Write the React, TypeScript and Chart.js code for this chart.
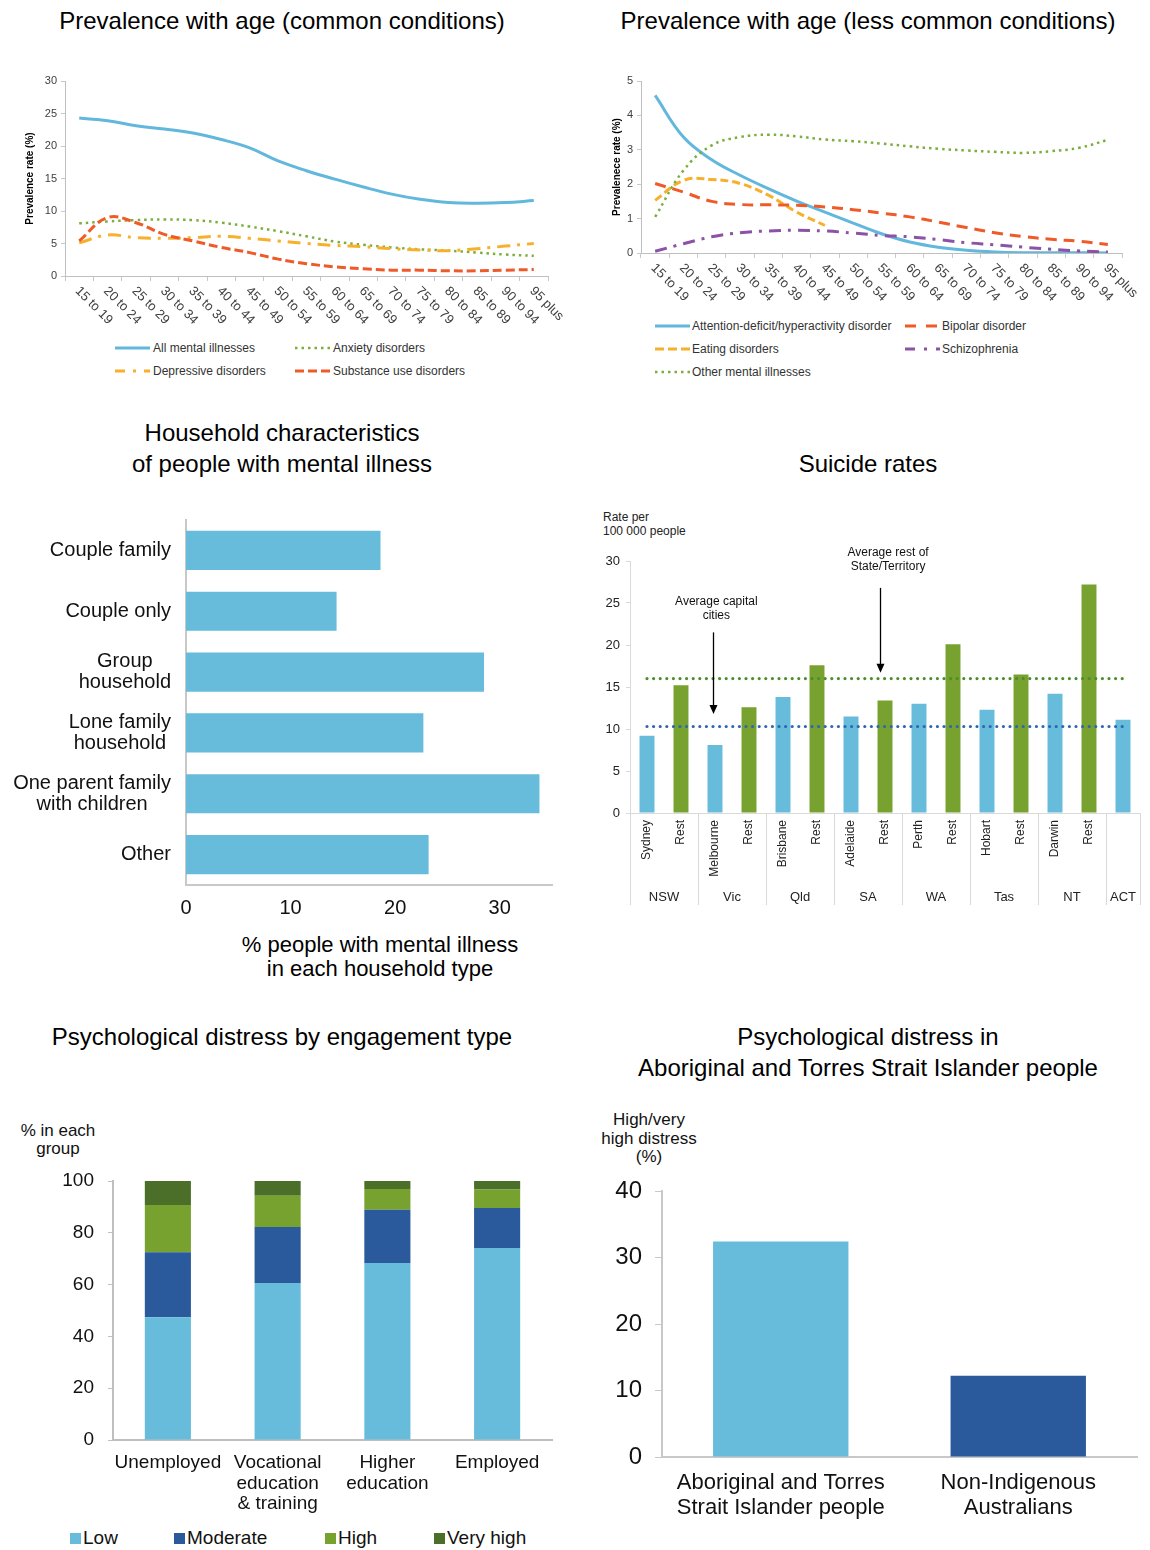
import React, { useEffect, useRef } from 'react';
import { Chart, registerables } from 'chart.js';

Chart.register(...registerables);

const FONT = '"Liberation Sans", Arial, Helvetica, sans-serif';
Chart.defaults.font.family = FONT;
Chart.defaults.color = '#333';

// ---------- Prevalence with age ----------
const ageGroups = ['15 to 19', '20 to 24', '25 to 29', '30 to 34', '35 to 39', '40 to 44', '45 to 49', '50 to 54', '55 to 59', '60 to 64', '65 to 69', '70 to 74', '75 to 79', '80 to 84', '85 to 89', '90 to 94', '95 plus'];
const allMentalIllnesses = [24.3, 23.9, 23.1, 22.6, 22.0, 21.0, 19.7, 17.7, 16.2, 14.9, 13.7, 12.6, 11.8, 11.3, 11.2, 11.3, 11.6];
const anxietyDisorders = [8.1, 8.4, 8.6, 8.7, 8.6, 8.2, 7.6, 6.9, 6.1, 5.3, 4.8, 4.4, 4.1, 3.9, 3.6, 3.3, 3.1];
const depressiveDisorders = [5.1, 6.3, 5.9, 5.8, 5.9, 6.1, 5.8, 5.4, 5.0, 4.7, 4.5, 4.2, 4.0, 3.9, 4.2, 4.6, 5.0];
const substanceUseDisorders = [5.4, 9.0, 8.2, 6.4, 5.4, 4.4, 3.6, 2.6, 1.9, 1.4, 1.1, 0.9, 0.9, 0.8, 0.8, 0.9, 1.0];

const adhd = [4.58, 3.37, 2.71, 2.26, 1.87, 1.51, 1.19, 0.87, 0.56, 0.32, 0.17, 0.08, 0.03, 0.01, 0.01, 0.01, 0.0];
const bipolarDisorder = [2.02, 1.77, 1.5, 1.41, 1.4, 1.39, 1.34, 1.26, 1.16, 1.05, 0.9, 0.74, 0.59, 0.48, 0.4, 0.34, 0.25];
const eatingDisorders = [1.53, 2.11, 2.14, 2.02, 1.68, 1.19, 0.8, null, null, null, null, null, null, null, null, null, null];
const schizophrenia = [0.05, 0.27, 0.47, 0.59, 0.64, 0.66, 0.64, 0.58, 0.51, 0.47, 0.39, 0.3, 0.24, 0.17, 0.11, 0.06, 0.03];
const otherMentalIllnesses = [1.05, 2.4, 3.13, 3.37, 3.44, 3.39, 3.3, 3.25, 3.18, 3.1, 3.03, 2.98, 2.94, 2.91, 2.96, 3.06, 3.29];

// ---------- Household characteristics ----------
const householdTypes = ['Couple family', 'Couple only', 'Group\nhousehold', 'Lone family\nhousehold', 'One parent family\nwith children', 'Other'];
const householdShares = [18.6, 14.4, 28.5, 22.7, 33.8, 23.2];

// ---------- Suicide rates ----------
const suicideAreas = ['Sydney', 'Rest', 'Melbourne', 'Rest', 'Brisbane', 'Rest', 'Adelaide', 'Rest', 'Perth', 'Rest', 'Hobart', 'Rest', 'Darwin', 'Rest', ''];
const suicideAreaType = ['capital', 'rest', 'capital', 'rest', 'capital', 'rest', 'capital', 'rest', 'capital', 'rest', 'capital', 'rest', 'capital', 'rest', 'capital'];
const suicideRates = [9.2, 15.2, 8.1, 12.6, 13.8, 17.6, 11.5, 13.4, 13.0, 20.1, 12.3, 16.5, 14.2, 27.2, 11.1];
const stateNames = ['NSW', 'Vic', 'Qld', 'SA', 'WA', 'Tas', 'NT', 'ACT'];
const stateSpans = [2, 2, 2, 2, 2, 2, 2, 1];
const avgCapitalCities = 10.3;
const avgRestOfState = 16.0;
const suicideNotes = [
  { lines: ['Average capital', 'cities'], textAt: [2.04, 25.2], arrowX: 1.93, arrowFrom: 21.5, arrowTo: 11.8 },
  { lines: ['Average rest of', 'State/Territory'], textAt: [7.09, 31.0], arrowX: 6.85, arrowFrom: 26.8, arrowTo: 16.7 },
];

// ---------- Psychological distress by engagement ----------
const engagementTypes = [['Unemployed'], ['Vocational', 'education', '& training'], ['Higher', 'education'], ['Employed']];
const distressLow = [47.4, 60.6, 68.3, 74.1];
const distressModerate = [25.1, 21.6, 20.6, 15.5];
const distressHigh = [18.2, 12.1, 8.0, 7.1];
const distressVeryHigh = [9.3, 5.7, 3.1, 3.3];

// ---------- Aboriginal and Torres Strait Islander ----------
const populationGroups = [['Aboriginal and Torres', 'Strait Islander people'], ['Non-Indigenous', 'Australians']];
const highDistressShare = [32.4, 12.2];

// ---------- colours ----------
const LIGHT_BLUE = '#67BCDB';
const DARK_BLUE = '#2A5A9B';
const GREEN = '#78A22F';
const DARK_GREEN = '#4B6F29';
const LINE_BLUE = '#62B7DD';
const LINE_GREEN = '#7BAE3C';
const LINE_ORANGE = '#F7B02B';
const LINE_RED = '#EF5A29';
const LINE_PURPLE = '#8C52A6';

const noLegend = { legend: { display: false }, tooltip: { enabled: false } };

function ChartCanvas({ left, top, width, height, build }: any) {
  const ref = useRef<HTMLCanvasElement | null>(null);
  useEffect(() => {
    if (!ref.current) return;
    const chart = new Chart(ref.current, build());
    return () => chart.destroy();
  }, []);
  return <canvas ref={ref} width={width} height={height} style={{ position: 'absolute', left, top, width, height }} />;
}

function prevalenceDecor(yTitle: string, titleX: number) {
  return {
    id: 'prevalenceDecor',
    afterDraw(chart: any) {
      const { ctx } = chart;
      const x = chart.scales.x;
      const y = chart.scales.y;
      ctx.save();
      ctx.fillStyle = '#404040';
      ctx.font = `13px ${FONT}`;
      ctx.textAlign = 'left';
      ctx.textBaseline = 'middle';
      (chart.data.labels as string[]).forEach((lab, i) => {
        const px = x.getPixelForValue(i);
        ctx.save();
        ctx.translate(px - 2, x.top + 13);
        ctx.rotate(Math.PI / 4);
        ctx.fillText(lab, 0, 0);
        ctx.restore();
      });
      ctx.fillStyle = '#000';
      ctx.font = `bold 10px ${FONT}`;
      ctx.textAlign = 'center';
      ctx.translate(titleX, (y.top + y.bottom) / 2);
      ctx.rotate(-Math.PI / 2);
      ctx.fillText(yTitle, 0, 0);
      ctx.restore();
    },
  };
}

function prevalenceConfig(datasets: any[], yMax: number, yStep: number, yTitle: string, titleX: number, padRight: number, xHeight: number, yWidth: number) {
  return {
    type: 'line',
    data: { labels: ageGroups, datasets },
    options: {
      responsive: false,
      animation: false,
      devicePixelRatio: 1,
      layout: { padding: { top: 21, right: padRight, bottom: 0, left: 0 } },
      plugins: noLegend,
      elements: { point: { radius: 0, hoverRadius: 0 }, line: { tension: 0.4 } },
      scales: {
        x: {
          type: 'category',
          offset: true,
          grid: { display: true, drawOnChartArea: false, drawTicks: true, tickLength: 5, offset: true, color: '#C8C8C8' },
          border: { display: true, color: '#BFBFBF', width: 1 },
          ticks: { display: false },
          afterFit: (s: any) => { s.height = xHeight; },
        },
        y: {
          min: 0,
          max: yMax,
          grid: { display: true, drawOnChartArea: false, drawTicks: true, tickLength: 4, color: '#C8C8C8' },
          border: { display: true, color: '#BFBFBF', width: 1 },
          ticks: { stepSize: yStep, padding: 4, color: '#404040', font: { size: 11 } },
          afterFit: (s: any) => { s.width = yWidth; },
        },
      },
    },
    plugins: [prevalenceDecor(yTitle, titleX)],
  };
}

function buildCommon() {
  return prevalenceConfig(
    [
      { label: 'Substance use disorders', data: [...substanceUseDisorders], borderColor: LINE_RED, borderWidth: 3, borderDash: [9, 4] },
      { label: 'Depressive disorders', data: [...depressiveDisorders], borderColor: LINE_ORANGE, borderWidth: 3, borderDash: [13, 7, 3, 7] },
      { label: 'Anxiety disorders', data: [...anxietyDisorders], borderColor: LINE_GREEN, borderWidth: 2.5, borderDash: [2.5, 4] },
      { label: 'All mental illnesses', data: [...allMentalIllnesses], borderColor: LINE_BLUE, borderWidth: 3 },
    ],
    30, 5, 'Prevalence rate (%)', 30, 22, 59, 65,
  );
}

function buildLessCommon() {
  return prevalenceConfig(
    [
      { label: 'Other mental illnesses', data: [...otherMentalIllnesses], borderColor: LINE_GREEN, borderWidth: 2.5, borderDash: [2.5, 4] },
      { label: 'Schizophrenia', data: [...schizophrenia], borderColor: LINE_PURPLE, borderWidth: 3, borderDash: [12, 7, 3, 7] },
      { label: 'Bipolar disorder', data: [...bipolarDisorder], borderColor: LINE_RED, borderWidth: 3, borderDash: [11, 7] },
      { label: 'Eating disorders', data: [...eatingDisorders], borderColor: LINE_ORANGE, borderWidth: 3, borderDash: [8, 4] },
      { label: 'Attention-deficit/hyperactivity disorder', data: [...adhd], borderColor: LINE_BLUE, borderWidth: 3 },
    ],
    5, 1, 'Prevalenece rate (%)', 37, 28, 57, 61,
  );
}

function householdLabelPlugin() {
  return {
    id: 'householdLabels',
    afterDraw(chart: any) {
      const { ctx } = chart;
      const y = chart.scales.y;
      ctx.save();
      ctx.font = `20px ${FONT}`;
      ctx.fillStyle = '#111';
      ctx.textAlign = 'center';
      ctx.textBaseline = 'middle';
      householdTypes.forEach((lab, i) => {
        const lines = lab.split('\n');
        const w = Math.max(...lines.map((l) => ctx.measureText(l).width));
        const cx = y.right - 15 - w / 2;
        const cy = y.getPixelForValue(i);
        lines.forEach((ln, k) => ctx.fillText(ln, cx, cy + (k - (lines.length - 1) / 2) * 21.5));
      });
      ctx.restore();
    },
  };
}

function buildHousehold() {
  return {
    type: 'bar',
    data: {
      labels: householdTypes,
      datasets: [{ data: [...householdShares], backgroundColor: LIGHT_BLUE, barPercentage: 0.645, categoryPercentage: 1 }],
    },
    options: {
      indexAxis: 'y',
      responsive: false,
      animation: false,
      devicePixelRatio: 1,
      layout: { padding: { top: 15, right: 28, left: 0, bottom: 0 } },
      plugins: noLegend,
      scales: {
        y: {
          type: 'category',
          grid: { display: false, drawTicks: false },
          border: { display: true, color: '#C8C8C8', width: 2 },
          ticks: { display: false },
          afterFit: (s: any) => { s.width = 186; },
        },
        x: {
          min: 0,
          max: 35,
          grid: { display: false, drawTicks: false },
          border: { display: true, color: '#C8C8C8', width: 2 },
          ticks: { stepSize: 10, padding: 11, font: { size: 20 }, color: '#111' },
          afterBuildTicks: (s: any) => { s.ticks = s.ticks.filter((t: any) => t.value % 10 === 0); },
          afterFit: (s: any) => { s.height = 40; },
        },
      },
    },
    plugins: [householdLabelPlugin()],
  };
}

function suicideDecorPlugin() {
  return {
    id: 'suicideDecor',
    afterDraw(chart: any) {
      const { ctx } = chart;
      const x = chart.scales.x;
      const y = chart.scales.y;
      ctx.save();
      const bounds = [0];
      let acc = 0;
      stateSpans.forEach((s) => { acc += s; bounds.push(acc); });
      ctx.strokeStyle = '#D9D9D9';
      ctx.lineWidth = 1;
      bounds.forEach((b) => {
        const px = Math.round(x.getPixelForValue(b - 0.5)) + 0.5;
        ctx.beginPath();
        ctx.moveTo(px, x.top);
        ctx.lineTo(px, x.top + 92);
        ctx.stroke();
      });
      ctx.font = `13px ${FONT}`;
      ctx.fillStyle = '#222';
      ctx.textAlign = 'center';
      ctx.textBaseline = 'middle';
      stateNames.forEach((name, i) => {
        const cx = (x.getPixelForValue(bounds[i] - 0.5) + x.getPixelForValue(bounds[i + 1] - 0.5)) / 2;
        ctx.fillText(name, cx, x.top + 84);
      });
      // annotations
      ctx.font = `12px ${FONT}`;
      ctx.fillStyle = '#111';
      suicideNotes.forEach((n) => {
        const tx = x.getPixelForValue(n.textAt[0]);
        const ty = y.getPixelForValue(n.textAt[1]);
        n.lines.forEach((ln, k) => ctx.fillText(ln, tx, ty + k * 14));
        const ax = Math.round(x.getPixelForValue(n.arrowX)) + 0.5;
        const y1 = y.getPixelForValue(n.arrowFrom);
        const y2 = y.getPixelForValue(n.arrowTo);
        ctx.strokeStyle = '#000';
        ctx.lineWidth = 1.3;
        ctx.beginPath();
        ctx.moveTo(ax, y1);
        ctx.lineTo(ax, y2 - 6);
        ctx.stroke();
        ctx.fillStyle = '#000';
        ctx.beginPath();
        ctx.moveTo(ax - 4, y2 - 9);
        ctx.lineTo(ax + 4, y2 - 9);
        ctx.lineTo(ax, y2);
        ctx.closePath();
        ctx.fill();
        ctx.fillStyle = '#111';
      });
      ctx.restore();
    },
  };
}

function buildSuicide() {
  return {
    type: 'bar',
    data: {
      labels: suicideAreas,
      datasets: [
        { type: 'line', data: suicideAreas.map(() => avgRestOfState), borderColor: '#4E8C2E', borderWidth: 3.2, borderDash: [0, 6.6], borderCapStyle: 'round', pointRadius: 0, order: 0 },
        { type: 'line', data: suicideAreas.map(() => avgCapitalCities), borderColor: '#2E66B1', borderWidth: 3.2, borderDash: [0, 6.6], borderCapStyle: 'round', pointRadius: 0, order: 0 },
        {
          type: 'bar',
          data: [...suicideRates],
          backgroundColor: suicideAreaType.map((t) => (t === 'capital' ? LIGHT_BLUE : GREEN)),
          barPercentage: 0.44,
          categoryPercentage: 1,
          order: 1,
        },
      ],
    },
    options: {
      responsive: false,
      animation: false,
      devicePixelRatio: 1,
      layout: { padding: { top: 21, right: 10, left: 0, bottom: 0 } },
      plugins: noLegend,
      scales: {
        x: {
          grid: { display: false, drawTicks: false },
          border: { display: true, color: '#D9D9D9', width: 1 },
          ticks: { autoSkip: false, minRotation: 90, maxRotation: 90, padding: 7, font: { size: 12 }, color: '#222' },
          afterFit: (s: any) => { s.height = 97; },
        },
        y: {
          min: 0,
          max: 30,
          grid: { display: true, drawOnChartArea: false, drawTicks: true, tickLength: 4, color: '#D9D9D9' },
          border: { display: true, color: '#D9D9D9', width: 1 },
          ticks: { stepSize: 5, padding: 6, font: { size: 13 }, color: '#222' },
          afterFit: (s: any) => { s.width = 40; },
        },
      },
    },
    plugins: [suicideDecorPlugin()],
  };
}

function buildEngagement() {
  return {
    type: 'bar',
    data: {
      labels: engagementTypes,
      datasets: [
        { label: 'Low', data: [...distressLow], backgroundColor: LIGHT_BLUE },
        { label: 'Moderate', data: [...distressModerate], backgroundColor: DARK_BLUE },
        { label: 'High', data: [...distressHigh], backgroundColor: GREEN },
        { label: 'Very high', data: [...distressVeryHigh], backgroundColor: DARK_GREEN },
      ].map((d) => ({ ...d, barPercentage: 0.42, categoryPercentage: 1 })),
    },
    options: {
      responsive: false,
      animation: false,
      devicePixelRatio: 1,
      layout: { padding: { top: 26, right: 28, left: 0, bottom: 0 } },
      plugins: noLegend,
      scales: {
        x: {
          stacked: true,
          grid: { display: false, drawTicks: false },
          border: { display: true, color: '#BFBFBF', width: 2 },
          ticks: { autoSkip: false, maxRotation: 0, minRotation: 0, padding: 12, font: { size: 19, lineHeight: 1.1 }, color: '#111' },
          afterFit: (s: any) => { s.height = 80; },
        },
        y: {
          stacked: true,
          min: 0,
          max: 100,
          grid: { display: true, drawOnChartArea: false, drawTicks: true, tickLength: 5, color: '#BFBFBF' },
          border: { display: true, color: '#BFBFBF', width: 2 },
          ticks: { stepSize: 20, padding: 14, font: { size: 19 }, color: '#111' },
          afterFit: (s: any) => { s.width = 113; },
        },
      },
    },
  };
}

function buildIndigenous() {
  return {
    type: 'bar',
    data: {
      labels: populationGroups,
      datasets: [{ data: [...highDistressShare], backgroundColor: [LIGHT_BLUE, DARK_BLUE], barPercentage: 0.57, categoryPercentage: 1 }],
    },
    options: {
      responsive: false,
      animation: false,
      devicePixelRatio: 1,
      layout: { padding: { top: 28, right: 13, left: 0, bottom: 0 } },
      plugins: noLegend,
      scales: {
        x: {
          grid: { display: false, drawTicks: false },
          border: { display: true, color: '#C8C8C8', width: 2 },
          ticks: { autoSkip: false, maxRotation: 0, minRotation: 0, padding: 13, font: { size: 22, lineHeight: 25 / 22 }, color: '#111' },
          afterFit: (s: any) => { s.height = 68; },
        },
        y: {
          min: 0,
          max: 40,
          grid: { display: true, drawOnChartArea: false, drawTicks: true, tickLength: 7, color: '#C8C8C8' },
          border: { display: true, color: '#C8C8C8', width: 2 },
          ticks: { stepSize: 10, padding: 13, font: { size: 24 }, color: '#111' },
          afterFit: (s: any) => { s.width = 72; },
        },
      },
    },
  };
}

function Title({ left, top, lines }: any) {
  return (
    <div style={{ position: 'absolute', left, top, width: 564, textAlign: 'center', fontSize: 24, lineHeight: '31px', whiteSpace: 'nowrap' }}>
      {lines.map((l: string, i: number) => <div key={i}>{l}</div>)}
    </div>
  );
}

function LegendLine({ sx, y, color, dash, cap, width, label, gap }: any) {
  return (
    <>
      <svg style={{ position: 'absolute', left: sx, top: y - 4 }} width={35} height={8}>
        <line x1={cap === 'round' ? 2 : 0} y1={4} x2={35} y2={4} stroke={color} strokeWidth={width || 3} strokeDasharray={dash || undefined} strokeLinecap={cap || 'butt'} />
      </svg>
      <div style={{ position: 'absolute', left: sx + (gap || 38), top: y - 7, fontSize: 12, lineHeight: '14px', color: '#333', whiteSpace: 'nowrap' }}>{label}</div>
    </>
  );
}

function LegendBox({ sx, y, color, label }: any) {
  return (
    <>
      <div style={{ position: 'absolute', left: sx, top: y - 5.5, width: 11, height: 11, background: color }} />
      <div style={{ position: 'absolute', left: sx + 13, top: y - 11, fontSize: 19, lineHeight: '22px', color: '#111', whiteSpace: 'nowrap' }}>{label}</div>
    </>
  );
}

export default function App() {
  return (
    <div style={{ position: 'absolute', left: 0, top: 0, width: 1150, height: 1550, background: '#fff', fontFamily: FONT, color: '#000', overflow: 'hidden' }}>
      {/* Chart 1 */}
      <Title left={0} top={5} lines={['Prevalence with age (common conditions)']} />
      <ChartCanvas left={0} top={60} width={570} height={275} build={buildCommon} />
      <LegendLine sx={115} y={348} color={LINE_BLUE} label="All mental illnesses" />
      <LegendLine sx={295} y={348} color={LINE_GREEN} dash="2.5 4" width={2.5} label="Anxiety disorders" />
      <LegendLine sx={115} y={371} color={LINE_ORANGE} dash="10 8 3 8" label="Depressive disorders" />
      <LegendLine sx={295} y={371} color={LINE_RED} dash="9 4" label="Substance use disorders" />

      {/* Chart 2 */}
      <Title left={586} top={5} lines={['Prevalence with age (less common conditions)']} />
      <ChartCanvas left={580} top={60} width={570} height={250} build={buildLessCommon} />
      <LegendLine sx={655} y={326} color={LINE_BLUE} gap={37} label="Attention-deficit/hyperactivity disorder" />
      <LegendLine sx={905} y={326} color={LINE_RED} dash="11 10" gap={37} label="Bipolar disorder" />
      <LegendLine sx={655} y={349} color={LINE_ORANGE} dash="9 4" gap={37} label="Eating disorders" />
      <LegendLine sx={905} y={349} color={LINE_PURPLE} dash="10 9 3 9" gap={37} label="Schizophrenia" />
      <LegendLine sx={655} y={372} color={LINE_GREEN} dash="2.5 4" width={2.5} gap={37} label="Other mental illnesses" />

      {/* Chart 3 */}
      <Title left={0} top={417} lines={['Household characteristics', 'of people with mental illness']} />
      <ChartCanvas left={0} top={505} width={580} height={420} build={buildHousehold} />
      <div style={{ position: 'absolute', left: 180, top: 933, width: 400, textAlign: 'center', fontSize: 22, lineHeight: '24px', whiteSpace: 'nowrap' }}>
        <div>% people with mental illness</div>
        <div>in each household type</div>
      </div>

      {/* Chart 4 */}
      <Title left={586} top={448} lines={['Suicide rates']} />
      <div style={{ position: 'absolute', left: 603, top: 510, fontSize: 12, lineHeight: '14px', color: '#222', whiteSpace: 'nowrap' }}>
        <div>Rate per</div>
        <div>100 000 people</div>
      </div>
      <ChartCanvas left={590} top={540} width={560} height={370} build={buildSuicide} />

      {/* Chart 5 */}
      <Title left={0} top={1021} lines={['Psychological distress by engagement type']} />
      <div style={{ position: 'absolute', left: 8, top: 1122, width: 100, textAlign: 'center', fontSize: 17, lineHeight: '18px', color: '#111', whiteSpace: 'nowrap' }}>
        <div>% in each</div>
        <div>group</div>
      </div>
      <ChartCanvas left={0} top={1155} width={580} height={365} build={buildEngagement} />
      <LegendBox sx={70} y={1538} color={LIGHT_BLUE} label="Low" />
      <LegendBox sx={174} y={1538} color={DARK_BLUE} label="Moderate" />
      <LegendBox sx={325} y={1538} color={GREEN} label="High" />
      <LegendBox sx={434} y={1538} color={DARK_GREEN} label="Very high" />

      {/* Chart 6 */}
      <Title left={586} top={1021} lines={['Psychological distress in', 'Aboriginal and Torres Strait Islander people']} />
      <div style={{ position: 'absolute', left: 589, top: 1111, width: 120, textAlign: 'center', fontSize: 17, lineHeight: '18.5px', color: '#111', whiteSpace: 'nowrap' }}>
        <div>High/very</div>
        <div>high distress</div>
        <div>(%)</div>
      </div>
      <ChartCanvas left={590} top={1163} width={560} height={362} build={buildIndigenous} />
    </div>
  );
}
